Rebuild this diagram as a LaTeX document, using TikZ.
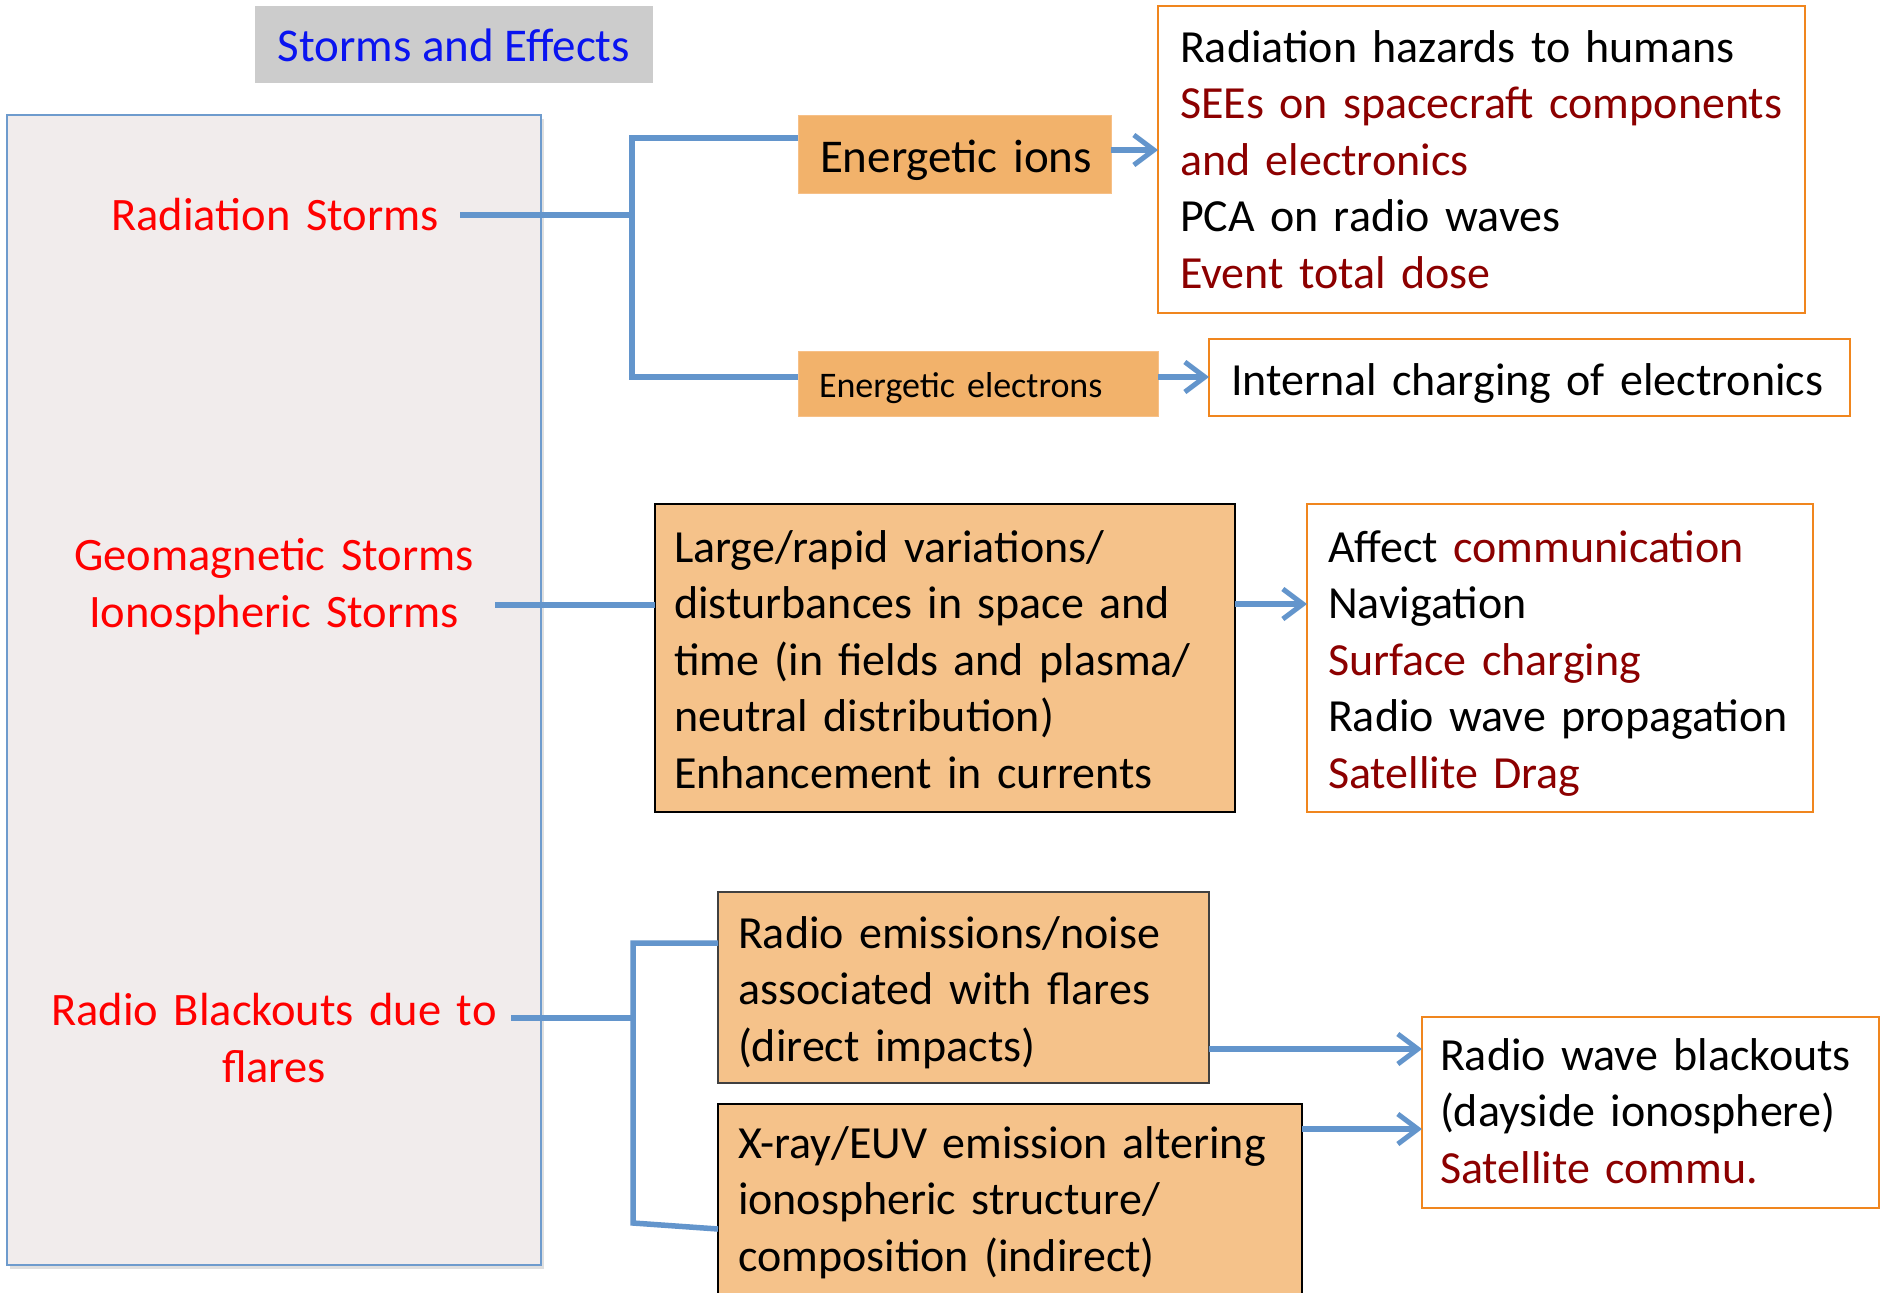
\documentclass[tikz,border=0pt]{standalone}
\usepackage{fontspec}
\setmainfont{Carlito}
\usetikzlibrary{arrows.meta,shadows}
\definecolor{connblue}{RGB}{99,149,204}
\definecolor{ttlgray}{RGB}{204,204,204}
\definecolor{ttlblue}{RGB}{10,20,240}
\definecolor{leftfill}{RGB}{241,236,236}
\definecolor{leftdraw}{RGB}{110,155,205}
\definecolor{ionfill}{RGB}{242,178,107}
\definecolor{ionline}{RGB}{247,192,135}
\definecolor{midfill}{RGB}{245,194,138}
\definecolor{effline}{RGB}{240,134,30}
\definecolor{dkred}{RGB}{140,0,0}
\begin{document}
\begin{tikzpicture}[x=1pt,y=-1pt,
  every node/.style={inner sep=0pt, outer sep=0pt},
  bigfont/.style={font=\fontsize{46}{56.5}\selectfont},
  txt/.style={bigfont, anchor=base west, align=left, text width=#1},
  lbl/.style={text=red, font=\fontsize{46.5}{57.5}\selectfont, anchor=base, align=center, text width=520pt},
  ionbox/.style={fill=ionfill, draw=ionline, line width=1pt},
  midbox/.style={fill=midfill, draw=black, line width=2pt},
  effbox/.style={fill=white, draw=effline, line width=2pt},
  link/.style={draw=connblue, line width=5.5pt},
  arr/.style={link, -{Straight Barb[length=20pt, width=30pt, line width=5pt]}}
]
\clip (0,0) rectangle (1885,1293);
\fill[white] (0,0) rectangle (1885,1293);

% title
\node[fill=ttlgray, minimum width=398pt, minimum height=77pt, text=ttlblue,
      font=\fontsize{47}{56.5}\selectfont,
      text height=33pt, text depth=0pt] (title) at (454,44.5) {Storms and Effects};

% left panel
\node[fill=leftfill, draw=leftdraw, line width=1.5pt, minimum width=534pt, minimum height=1150pt,
      drop shadow={opacity=0.25, shadow xshift=3pt, shadow yshift=-4pt}] (left) at (274,690) {};
\node[lbl] (rs) at (275,230) {Radiation Storms};
\node[lbl] (gs) at (274,570) {Geomagnetic Storms\\Ionospheric Storms};
\node[lbl] (rb) at (274,1025) {Radio Blackouts due to\\flares};

% radiation storms branch
\node[ionbox, minimum width=313pt, minimum height=78pt] (ions) at (954.5,154) {};
\node[txt=300pt, font=\fontsize{47}{56.5}\selectfont] (ions-t) at (820,172) {Energetic ions};
\node[ionbox, minimum width=360pt, minimum height=65pt] (elec) at (978,383.5) {};
\node[txt=340pt, font=\fontsize{36}{43}\selectfont] (elec-t) at (819,397) {Energetic electrons};

\node[effbox, minimum width=647pt, minimum height=307pt] (eff1) at (1481.5,159.5) {};
\node[txt=700pt] (eff1-t) at (1180,62) {Radiation hazards to humans\\
\textcolor{dkred}{SEEs on spacecraft components}\\
\textcolor{dkred}{and electronics}\\
PCA on radio waves\\
\textcolor{dkred}{Event total dose}};

\node[effbox, minimum width=641pt, minimum height=77pt] (eff2) at (1529.5,377.5) {};
\node[txt=700pt] (eff2-t) at (1231,395) {Internal charging of electronics};

% geomagnetic branch
\node[midbox, minimum width=580pt, minimum height=308pt] (mid) at (945,658) {};
\node[txt=600pt] (mid-t) at (674,562) {Large/rapid variations/\\
disturbances in space and\\
time (in fields and plasma/\\
neutral distribution)\\
Enhancement in currents};

\node[effbox, minimum width=506pt, minimum height=308pt] (eff3) at (1560,658) {};
\node[txt=600pt] (eff3-t) at (1328,562) {Affect \textcolor{dkred}{communication}\\
Navigation\\
\textcolor{dkred}{Surface charging}\\
Radio wave propagation\\
\textcolor{dkred}{Satellite Drag}};

% radio blackouts branch
\node[midbox, draw=black!75, line width=1.5pt, minimum width=491pt, minimum height=191pt] (rad) at (963.5,987.5) {};
\node[txt=600pt] (rad-t) at (738,948) {Radio emissions/noise\\
associated with flares\\
(direct impacts)};

\node[midbox, line width=1.5pt, minimum width=584pt, minimum height=226pt] (xr) at (1010,1217) {};
\node[txt=600pt] (xr-t) at (738,1158) {X-ray/EUV emission altering\\
ionospheric structure/\\
composition (indirect)};

\node[effbox, minimum width=457pt, minimum height=191pt] (blk) at (1650.5,1112.5) {};
\node[txt=600pt] (blk-t) at (1440,1070) {Radio wave blackouts\\
(dayside ionosphere)\\
\textcolor{dkred}{Satellite commu.}};

% connectors
\coordinate (rsE) at (460,215);
\coordinate (j1) at (632,215);
\coordinate (j1a) at (632,138);
\coordinate (j1b) at (632,377);
\draw[link] (rsE) -- (j1);
\draw[link] (ions.west |- j1a) -- (j1a) -- (j1b) -- (elec.west |- j1b);
\draw[arr] (ions.east |- 0,150) -- (eff1.west |- 0,150);
\draw[arr] (elec.east |- 0,377) -- (eff2.west |- 0,377);

\coordinate (gsE) at (495,605);
\draw[link] (gsE) -- (mid.west |- gsE);
\draw[arr] (mid.east |- 0,604) -- (eff3.west |- 0,604);

\coordinate (rbE) at (511,1018);
\coordinate (j3) at (633,1018);
\coordinate (j3a) at (633,943);
\coordinate (j3b) at (633,1223);
\draw[link] (rbE) -- (j3);
\draw[link] (rad.west |- j3a) -- (j3a) -- (j3b) -- (xr.west |- 0,1229);
\draw[arr] (rad.east |- 0,1049) -- (blk.west |- 0,1049);
\draw[arr] (xr.east |- 0,1129) -- (blk.west |- 0,1129);
\end{tikzpicture}
\end{document}
